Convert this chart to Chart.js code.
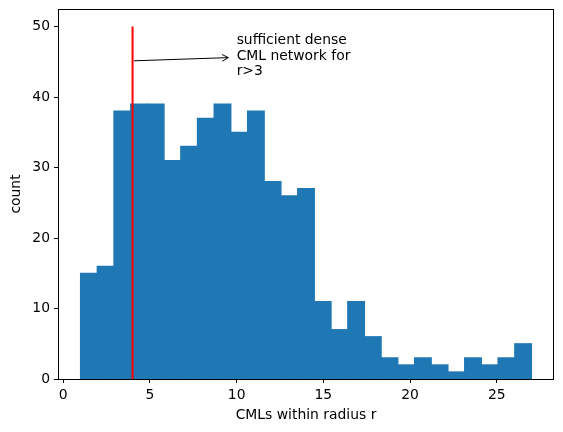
<!DOCTYPE html>
<html>
<head>
<meta charset="utf-8">
<script src="https://cdn.jsdelivr.net/npm/chart.js@4/dist/chart.umd.min.js"></script>
<style>
  html, body { margin: 0; padding: 0; background: #fff; }
  #wrap { width: 563px; height: 432px; }
</style>
</head>
<body>
<div id="wrap"><canvas id="hist"></canvas></div>
<script>
// histogram counts, 27 bins between 1 and 27
var counts = [15, 16, 38, 39, 39, 31, 33, 37, 39, 35, 38, 28, 26, 27, 11, 7, 11, 6, 3, 2, 3, 2, 1, 3, 2, 3, 5];
var binRange = [1, 27];
var xTicks = [0, 5, 10, 15, 20, 25];
var yTicks = [0, 10, 20, 30, 40, 50];
var threshold = [{ x: 4, y: 0 }, { x: 4, y: 50 }];
var noteLines = ["sufficient dense", "CML network for", "r>3"];
var noteArrow = [{ x: 4.08, y: 45.15 }, { x: 9.52, y: 45.6 }];
var noteAt = { x: 10, y: 45.3 };

var binW = (binRange[1] - binRange[0]) / counts.length;
var histData = counts.map(function (c, i) {
  return { x: binRange[0] + (i + 0.5) * binW, y: c };
});

Chart.defaults.font.family = "'DejaVu Sans', sans-serif";
Chart.defaults.font.size = 13.9;
Chart.defaults.color = "#000";

const extras = {
  id: "extras",
  afterDatasetsDraw(chart) {
    const ctx = chart.ctx;
    const a = chart.chartArea;
    const xs = chart.scales.x, ys = chart.scales.y;
    ctx.save();
    // frame
    ctx.strokeStyle = "#000";
    ctx.lineWidth = 1;
    ctx.strokeRect(a.left + 0.5, a.top + 0.5, a.right - a.left - 1, a.bottom - a.top);
    // arrow
    const x1 = xs.getPixelForValue(noteArrow[0].x), y1 = ys.getPixelForValue(noteArrow[0].y);
    const x2 = xs.getPixelForValue(noteArrow[1].x), y2 = ys.getPixelForValue(noteArrow[1].y);
    ctx.beginPath();
    ctx.moveTo(x1, y1);
    ctx.lineTo(x2, y2);
    const ang = Math.atan2(y2 - y1, x2 - x1);
    ctx.moveTo(x2 - 7 * Math.cos(ang - 0.5), y2 - 7 * Math.sin(ang - 0.5));
    ctx.lineTo(x2, y2);
    ctx.lineTo(x2 - 7 * Math.cos(ang + 0.5), y2 - 7 * Math.sin(ang + 0.5));
    ctx.stroke();
    // text
    ctx.fillStyle = "#000";
    ctx.font = "13.9px 'DejaVu Sans'";
    ctx.textAlign = "left";
    ctx.textBaseline = "alphabetic";
    const tx = xs.getPixelForValue(noteAt.x), ty = ys.getPixelForValue(noteAt.y);
    noteLines.forEach(function (t, i) {
      ctx.fillText(t, tx, ty + (i - 1) * 15.7);
    });
    ctx.restore();
  }
};

function noPad(s) {
  s.paddingTop = 0; s.paddingBottom = 0; s.paddingLeft = 0; s.paddingRight = 0;
}

new Chart(document.getElementById("hist"), {
  type: "bar",
  data: {
    datasets: [
      {
        type: "bar",
        data: histData,
        backgroundColor: "#1f77b4",
        borderWidth: 0,
        inflateAmount: 0.6,
        barPercentage: 1,
        categoryPercentage: 1,
        order: 2
      },
      {
        type: "line",
        data: threshold,
        borderColor: "red",
        borderWidth: 2,
        pointRadius: 0,
        fill: false,
        order: 1
      }
    ]
  },
  options: {
    responsive: true,
    maintainAspectRatio: false,
    animation: false,
    layout: { padding: { left: 0, right: 9, top: 9, bottom: 0 } },
    plugins: { legend: { display: false }, tooltip: { enabled: false } },
    scales: {
      x: {
        type: "linear",
        min: -0.3,
        max: 28.3,
        offset: false,
        afterBuildTicks: function (s) { s.ticks = xTicks.map(function (v) { return { value: v }; }); },
        afterFit: function (s) { s.height = 53; noPad(s); },
        grid: { display: true, offset: false, drawOnChartArea: false, drawTicks: true, tickLength: 4, color: "#000" },
        border: { display: false },
        ticks: { padding: 4, maxRotation: 0 },
        title: { display: true, text: "CMLs within radius r", padding: { top: 0, bottom: 8.6 } }
      },
      y: {
        min: 0,
        max: 52.5,
        afterBuildTicks: function (s) { s.ticks = yTicks.map(function (v) { return { value: v }; }); },
        afterFit: function (s) { s.width = 58; noPad(s); },
        grid: { display: true, drawOnChartArea: false, drawTicks: true, tickLength: 4, color: "#000" },
        border: { display: false },
        ticks: { padding: 4 },
        title: { display: true, text: "count", padding: { top: 7.6, bottom: 0 } }
      }
    }
  },
  plugins: [extras]
});
</script>
</body>
</html>
